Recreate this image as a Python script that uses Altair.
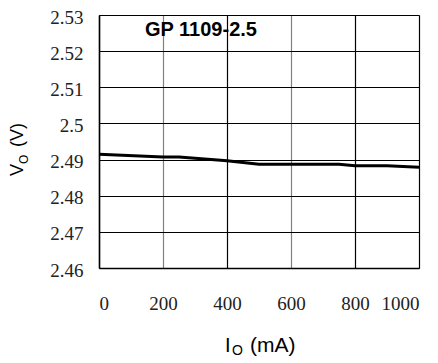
import altair as alt
import pandas as pd

current_ma = [0, 200, 250, 400, 500, 750, 800, 900, 1000]
vout_v = [2.4915, 2.4907, 2.4907, 2.4897, 2.4887, 2.4887, 2.4883, 2.4883, 2.4879]
x_ticks = [0, 200, 400, 600, 800, 1000]
y_ticks = [2.46, 2.47, 2.48, 2.49, 2.50, 2.51, 2.52, 2.53]
annotation = "GP 1109-2.5"

df = pd.DataFrame({"I": current_ma, "V": vout_v})
one = pd.DataFrame({"k": [0]})

SERIF = "Liberation Serif, Times New Roman, serif"

grid_color = {
    "condition": {"test": "datum.value == 200 || datum.value == 600", "value": "#808080"},
    "value": "#000000",
}

line = alt.Chart(df).mark_line(color="black", strokeWidth=3).encode(
    x=alt.X(
        "I:Q",
        scale=alt.Scale(domain=[0, 1000], nice=False),
        axis=alt.Axis(
            values=x_ticks, format="d", title=None, ticks=False,
            labelPadding=26, labelBaseline="top",
            labelFont=SERIF, labelFontSize=19, labelColor="#222",
            domainColor="black", domainWidth=1.5,
            grid=True, gridColor=grid_color, gridWidth=1.2,
        ),
    ),
    y=alt.Y(
        "V:Q",
        scale=alt.Scale(domain=[2.46, 2.53], nice=False, zero=False),
        axis=alt.Axis(
            values=y_ticks, format=".2~f", title=None, ticks=False,
            labelPadding=16, labelOffset=2,
            labelFont=SERIF, labelFontSize=19, labelColor="#222",
            domainColor="black", domainWidth=1.5,
            grid=True, gridColor="black", gridWidth=1,
        ),
    ),
)

def txt(text, x, y, size, angle=0, bold=False, font="Liberation Sans"):
    return alt.Chart(one).mark_text(
        text=text, align="left", baseline="alphabetic", angle=angle,
        font=font, fontSize=size, fontWeight="bold" if bold else "normal",
        color="black",
    ).encode(x=alt.value(x), y=alt.value(y))

layers = [
    line,
    txt(annotation, 46, 21, 20, bold=True),
    txt("V", -76, 161, 18, angle=270),
    txt("O", -71, 149, 12, angle=270),
    txt("(V)", -76, 132, 18, angle=270),
    txt("I", 126, 337, 20),
    txt("O", 133, 340, 14),
    txt("(mA)", 151, 337, 21),
]

chart = alt.layer(*layers).properties(
    width=320, height=253,
    autosize=alt.AutoSizeParams(type="none"),
    padding={"left": 91, "top": 7, "right": 11, "bottom": 94},
).configure_view(stroke="black", strokeWidth=1.5).configure(background="white")

chart.save("out.html", embed_options={"renderer": "svg", "actions": False})
